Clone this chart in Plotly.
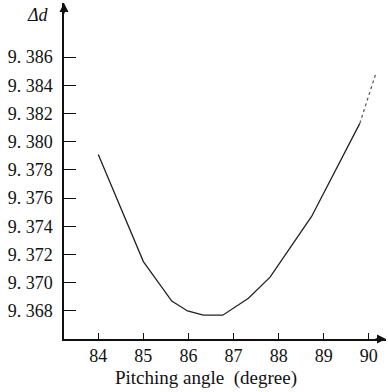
import plotly.graph_objects as go

pitch = [84.0, 85.0, 85.63, 85.98, 86.33, 86.76, 87.33, 87.81, 88.73, 89.36, 89.80]
delta_d = [9.3791, 9.3715, 9.3687, 9.3680, 9.3677, 9.3677, 9.3689, 9.3704, 9.3747, 9.3786, 9.3813]
pitch_tail = [89.80, 90.16]
delta_tail = [9.3813, 9.3849]

x_ticks = [84, 85, 86, 87, 88, 89, 90]
y_ticks = [9.368, 9.370, 9.372, 9.374, 9.376, 9.378, 9.380, 9.382, 9.384, 9.386]
y_tick_text = ["9. 368", "9. 370", "9. 372", "9. 374", "9. 376", "9. 378", "9. 380", "9. 382", "9. 384", "9. 386"]

font = "'Liberation Serif', 'Times New Roman', serif"

fig = go.Figure()
fig.add_trace(go.Scatter(x=pitch, y=delta_d, mode="lines",
                         line=dict(color="#222222", width=1.3), showlegend=False))
fig.add_trace(go.Scatter(x=pitch_tail, y=delta_tail, mode="lines",
                         line=dict(color="#555555", width=1.2, dash="dot"), showlegend=False))

fig.update_layout(
    width=388, height=392,
    margin=dict(l=64, r=2, t=3, b=53),
    paper_bgcolor="white", plot_bgcolor="white",
    font=dict(family=font, size=18, color="#111111"),
    xaxis=dict(range=[83.24, 90.38], tickvals=x_ticks, ticks="inside", ticklen=6,
               tickcolor="#111", tickwidth=1.3, showline=True, linecolor="#111", linewidth=1.5,
               showgrid=False, zeroline=False, automargin=False),
    yaxis=dict(range=[9.36601, 9.38984], tickvals=y_ticks, ticktext=y_tick_text,
               ticks="inside", ticklen=12, tickcolor="#111", tickwidth=1.3,
               showline=True, linecolor="#111", linewidth=1.5,
               showgrid=False, zeroline=False, ticklabelstandoff=6, automargin=False),
    annotations=[
        dict(x=1.0, y=0, xref="paper", yref="paper", ax=-12, ay=0, text="",
             showarrow=True, arrowhead=2, arrowsize=1.2, arrowwidth=1.5, arrowcolor="#111"),
        dict(x=0, y=1.0, xref="paper", yref="paper", ax=0, ay=12, text="",
             showarrow=True, arrowhead=2, arrowsize=1.2, arrowwidth=1.5, arrowcolor="#111"),
        dict(x=0, y=1.0, xref="paper", yref="paper", text="<i>Δd</i>", showarrow=False,
             xanchor="right", yanchor="top", xshift=-13, font=dict(size=18)),
        dict(x=0.44, y=-0.115, xref="paper", yref="paper", text="Pitching angle  (degree)",
             showarrow=False, xanchor="center", yanchor="middle", font=dict(size=19)),
    ],
)

fig.write_html("out.html", config={"displayModeBar": False},
               post_script="document.body.style.margin='0';document.body.style.overflow='hidden';")
